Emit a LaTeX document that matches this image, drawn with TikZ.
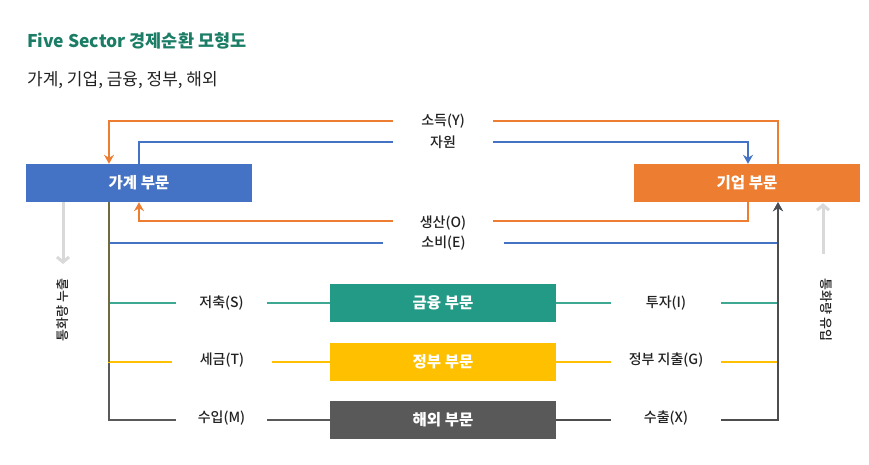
\documentclass[tikz,border=0pt]{standalone}
\usepackage{fontspec}
\setmainfont{Noto Sans CJK KR}
\newfontfamily\medfont{Noto Sans CJK KR Medium}
\usetikzlibrary{arrows.meta}
\definecolor{cOrange}{HTML}{ED7D31}
\definecolor{cBlue}{HTML}{4472C4}
\definecolor{cTeal}{HTML}{239A85}
\definecolor{cTealLine}{HTML}{3FA892}
\definecolor{cYellow}{HTML}{FFC000}
\definecolor{cGray}{HTML}{595959}
\definecolor{cDark}{HTML}{4D4D4D}
\definecolor{cTrunk}{HTML}{6F6B3E}
\definecolor{cSide}{HTML}{D9D9D9}
\definecolor{cTitle}{HTML}{1B7D65}
\definecolor{cText}{HTML}{222222}
\tikzset{
  sector/.style={rectangle, minimum width=226pt, minimum height=38pt, inner sep=0pt,
    text=white, font=\fontsize{15.5}{18}\selectfont\bfseries},
  flow/.style={line width=2pt},
  tip/.style={-{Stealth[length=9pt,width=10pt,inset=3pt]}},
  lbl/.style={fill=white, inner sep=0pt, minimum height=14pt, text=cText,
    font=\fontsize{14}{16}\selectfont\medfont},
  sidearrow/.style={line width=3pt, draw=cSide, -{Straight Barb[length=5pt,width=12pt,line width=3pt]}},
  sidelbl/.style={inner sep=0pt, text=cText, font=\fontsize{13}{15}\selectfont\medfont}
}
\begin{document}
\begin{tikzpicture}[x=1pt,y=-1pt]
\useasboundingbox (0,0) rectangle (869,465);

% title
\node[anchor=west, inner sep=0pt, text=cTitle, font=\fontsize{17.5}{20}\selectfont\bfseries] (title) at (27,41) {Five Sector 경제순환 모형도};
\node[anchor=west, inner sep=0pt, text=cText, font=\fontsize{17}{20}\selectfont] (subtitle) at (27,80) {가계, 기업, 금융, 정부, 해외};

% column and row coordinates
\coordinate (xL1) at (109,0);
\coordinate (xL2) at (139,0);
\coordinate (xR1) at (748,0);
\coordinate (xR2) at (778,0);
\coordinate (yT1) at (0,121);
\coordinate (yT2) at (0,142);
\coordinate (yB1) at (0,221);
\coordinate (yB2) at (0,243);
\coordinate (xSL) at (63,0);
\coordinate (xSR) at (823,0);

% sectors
\node[sector, fill=cBlue] (gagye) at (139,183) {가계 부문};
\node[sector, fill=cOrange] (giup) at (747,183) {기업 부문};
\node[sector, fill=cTeal] (fin) at (443,303) {금융 부문};
\node[sector, fill=cYellow] (gov) at (443,361.5) {정부 부문};
\node[sector, fill=cGray] (ovs) at (443,419.5) {해외 부문};

% top loops
\draw[flow, draw=cOrange, tip] (giup.north -| xR2) -- (xR2 |- yT1) -- (xL1 |- yT1) -- (gagye.north -| xL1);
\draw[flow, draw=cBlue, tip] (gagye.north -| xL2) -- (xL2 |- yT2) -- (xR1 |- yT2) -- (giup.north -| xR1);
\draw[flow, draw=cOrange, tip] (giup.south -| xR1) -- (xR1 |- yB1) -- (xL2 |- yB1) -- (gagye.south -| xL2);

% bottom flows
\draw[flow, draw=cGray] (gagye.south -| xL1) |- (ovs.west);
\draw[flow, draw=cYellow] (gagye.south -| xL1) |- (gov.west);
\draw[flow, draw=cTealLine] (gagye.south -| xL1) |- (fin.west);
\draw[flow, draw=cBlue, tip] (gagye.south -| xL1) -- (xL1 |- yB2) -- (xR2 |- yB2) -- (giup.south -| xR2);
\draw[flow, draw=cTrunk] (gagye.south -| xL1) -- (xL1 |- gov.west);

\draw[flow, draw=cTealLine] (fin.east) -- (fin.east -| xR2);
\draw[flow, draw=cYellow] (gov.east) -- (gov.east -| xR2);
\draw[flow, draw=cDark, tip] (ovs.east) -| (giup.south -| xR2);

% labels
\node[lbl, minimum width=100pt] (lY) at (443,121) {소득(Y)};
\node[lbl, minimum width=100pt] (lR) at (443,142) {자원};
\node[lbl, minimum width=100pt] (lO) at (443,223) {생산(O)};
\node[lbl, minimum width=121pt] (lE) at (443.5,243) {소비(E)};
\node[lbl, minimum width=91pt] (lS) at (221.5,303) {저축(S)};
\node[lbl, minimum width=100pt] (lT) at (222,360) {세금(T)};
\node[lbl, minimum width=91pt] (lM) at (221.5,418) {수입(M)};
\node[lbl, minimum width=110pt] (lI) at (666,303) {투자(I)};
\node[lbl, minimum width=110pt] (lG) at (666,360) {정부 지출(G)};
\node[lbl, minimum width=110pt] (lX) at (666,418) {수출(X)};

% side arrows
\coordinate (sLend) at (63,264);
\coordinate (sRstart) at (823,254);
\draw[sidearrow] (gagye.south -| xSL) -- (sLend);
\draw[sidearrow] (sRstart) -- ([yshift=-1pt]giup.south -| xSR);
\node[sidelbl, rotate=90] (leak) at (63,310) {통화량 누출};
\node[sidelbl, rotate=-90] (inject) at (826,310) {통화량 유입};
\end{tikzpicture}
\end{document}
